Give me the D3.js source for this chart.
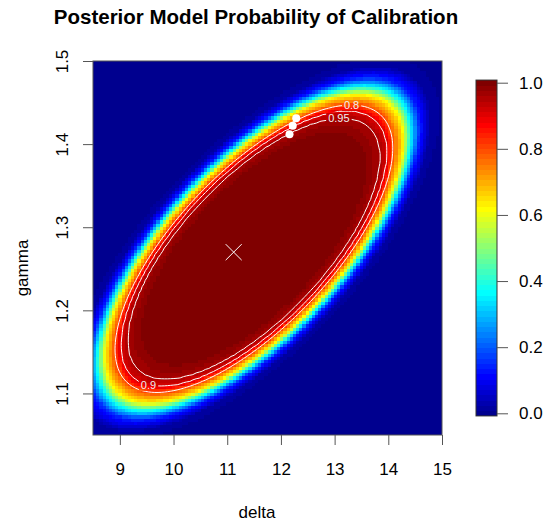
<!DOCTYPE html>
<html>
<head>
<meta charset="utf-8">
<style>
  body { margin: 0; background: #fff; }
  svg { font-family: "Liberation Sans", Arial, sans-serif; }
  .axis path { display: none; }
  .axis line { stroke: #555; }
  .axis text { font-size: 17px; fill: #000; }
  .cell { shape-rendering: crispEdges; }
</style>
<script src="https://cdn.jsdelivr.net/npm/d3@7"></script>
</head>
<body>
<script>
// --- values ---
var deltaRange = [8.5, 15];
var gammaRange = [1.05, 1.5];
var deltaTicks = [9, 10, 11, 12, 13, 14, 15];
var gammaTicks = [1.1, 1.2, 1.3, 1.4, 1.5];
var legendTicks = [0, 0.2, 0.4, 0.6, 0.8, 1.0];

// ridge of high probability: centre, half-extent of the 0.8 contour, tilt
var ridgeCentre = [11.497, 1.2741];
var ridgeSpread = [2.586, 0.1729];
var ridgeCorr = 0.7;

// probability against scaled distance from the centre (1 = the 0.8 contour)
var profileDist = [0, 0.8, 0.86, 0.91, 0.96, 1.0, 1.075, 1.13, 1.19, 1.27, 1.4];
var profileProb = [1.0, 0.988, 0.97, 0.95, 0.9, 0.8, 0.62, 0.37, 0.15, 0.03, 0.0];

var contourLevels = [0.8, 0.9, 0.95];
var labelLevel = [0.8, 0.95, 0.9];
var labelDelta = [13.33, 13.07, 9.53];
var labelGamma = [1.446, 1.424, 1.112];

var bestDelta = [11.12];
var bestGamma = [1.27];
var dotDelta = [12.16, 12.22, 12.285];
var dotGamma = [1.412, 1.422, 1.431];

// --- layout ---
var W = 545, H = 524;
var plot = {left: 93, right: 442, top: 61, bottom: 435};
var bar = {left: 476, right: 497, top: 82.7, bottom: 413.3};
var NX = 110, NY = 115;

var x = d3.scaleLinear().domain(deltaRange).range([plot.left, plot.right]);
var y = d3.scaleLinear().domain(gammaRange).range([plot.bottom, plot.top]);

// fields::tim.colors(64)
var palette = d3.range(64).map(function(i) {
  return d3.scaleLinear()
    .domain([0, 7, 23, 39, 55, 63])
    .range(["#00008F", "#0000FF", "#00FFFF", "#FFFF00", "#FF0000", "#800000"])(i);
});
var color = d3.scaleQuantize().domain([0, 1]).range(palette);

var profile = d3.scaleLinear().domain(profileDist).range(profileProb).clamp(true);

function prob(d, g) {
  var r = ridgeCorr;
  var zd = (d - ridgeCentre[0]) / ridgeSpread[0];
  var zg = (g - ridgeCentre[1]) / ridgeSpread[1];
  var q = (zd * zd - 2 * r * zd * zg + zg * zg) / (1 - r * r);
  return profile(Math.sqrt(q));
}

var dd = (deltaRange[1] - deltaRange[0]) / NX;
var dg = (gammaRange[1] - gammaRange[0]) / NY;
var values = [];
var cells = [];
for (var j = 0; j < NY; j++) {
  for (var i = 0; i < NX; i++) {
    var d = deltaRange[0] + (i + 0.5) * dd;
    var g = gammaRange[1] - (j + 0.5) * dg;
    var p = prob(d, g);
    values.push(p);
    cells.push({i: i, j: j, p: p});
  }
}

var svg = d3.select("body").append("svg")
  .attr("width", W)
  .attr("height", H);

// heat map
svg.append("g").selectAll("rect")
  .data(cells)
  .enter().append("rect")
  .attr("class", "cell")
  .attr("x", function(c) { return x(deltaRange[0] + c.i * dd); })
  .attr("y", function(c) { return y(gammaRange[1] - c.j * dg); })
  .attr("width", function(c) { return x(deltaRange[0] + (c.i + 1) * dd) - x(deltaRange[0] + c.i * dd); })
  .attr("height", function(c) { return y(gammaRange[1] - (c.j + 1) * dg) - y(gammaRange[1] - c.j * dg); })
  .attr("fill", function(c) { return color(c.p); });

// contours
var contours = d3.contours().size([NX, NY]).thresholds(contourLevels)(values);
var toScreen = d3.geoTransform({
  point: function(u, v) {
    this.stream.point(x(deltaRange[0] + u * dd), y(gammaRange[1] - v * dg));
  }
});
var path = d3.geoPath(toScreen);

var mask = svg.append("defs").append("mask")
  .attr("id", "gaps")
  .attr("maskUnits", "userSpaceOnUse")
  .attr("x", 0).attr("y", 0).attr("width", W).attr("height", H);
mask.append("rect").attr("width", W).attr("height", H).attr("fill", "#fff");

svg.append("g")
  .attr("mask", "url(#gaps)")
  .selectAll("path")
  .data(contours)
  .enter().append("path")
  .attr("d", path)
  .attr("fill", "none")
  .attr("stroke", "#fff")
  .attr("stroke-width", 1);

// contour labels, snapped onto their line
labelLevel.forEach(function(level, k) {
  var c = contours[contourLevels.indexOf(level)];
  var tx = x(labelDelta[k]), ty = y(labelGamma[k]);
  var best = null, bestDist = Infinity;
  c.coordinates.forEach(function(poly) {
    poly.forEach(function(ring) {
      ring.forEach(function(pt) {
        var px = x(deltaRange[0] + pt[0] * dd), py = y(gammaRange[1] - pt[1] * dg);
        var dist = (px - tx) * (px - tx) + (py - ty) * (py - ty);
        if (dist < bestDist) { bestDist = dist; best = [px, py]; }
      });
    });
  });
  var t = svg.append("text")
    .attr("x", best[0])
    .attr("y", best[1])
    .attr("dy", "0.35em")
    .attr("text-anchor", "middle")
    .style("font-size", "11px")
    .attr("fill", "#f0f0f0")
    .text(level);
  var bb = t.node().getBBox();
  mask.append("rect")
    .attr("x", bb.x - 2).attr("y", bb.y)
    .attr("width", bb.width + 4).attr("height", bb.height)
    .attr("fill", "#000");
});

// best estimate cross and the three white points
var best = svg.append("g").selectAll("g")
  .data(bestDelta)
  .enter().append("g")
  .attr("transform", function(d, k) { return "translate(" + x(d) + "," + y(bestGamma[k]) + ")"; });
best.append("path")
  .attr("d", "M-8,-8L8,8M-8,8L8,-8")
  .attr("stroke", "#fff")
  .attr("stroke-width", 1);

svg.append("g").selectAll("circle")
  .data(dotDelta)
  .enter().append("circle")
  .attr("cx", function(d) { return x(d); })
  .attr("cy", function(d, k) { return y(dotGamma[k]); })
  .attr("r", 4)
  .attr("fill", "#fff");

// frame and axes
svg.append("rect")
  .attr("x", plot.left).attr("y", plot.top)
  .attr("width", plot.right - plot.left)
  .attr("height", plot.bottom - plot.top)
  .attr("fill", "none")
  .attr("stroke", "#555");

svg.append("g")
  .attr("class", "axis")
  .attr("transform", "translate(0," + plot.bottom + ")")
  .call(d3.axisBottom(x).tickValues(deltaTicks).tickSize(10).tickPadding(18).tickFormat(d3.format("d")));

svg.append("g")
  .attr("class", "axis")
  .attr("transform", "translate(" + plot.left + ",0)")
  .call(d3.axisLeft(y).tickValues(gammaTicks).tickSize(10).tickFormat(d3.format(".1f")))
  .selectAll("text")
  .attr("x", 0).attr("dy", 0)
  .attr("text-anchor", "middle")
  .attr("transform", "translate(-25,0) rotate(-90)");

// colour bar
var ly = d3.scaleLinear().domain([0, 1]).range([bar.bottom, bar.top]);
var half = (bar.bottom - bar.top) / 63 / 2;
svg.append("g").selectAll("rect")
  .data(palette)
  .enter().append("rect")
  .attr("class", "cell")
  .attr("x", bar.left)
  .attr("width", bar.right - bar.left)
  .attr("y", function(c, k) { return ly(k / 63) - half; })
  .attr("height", half * 2 + 0.5)
  .attr("fill", function(c) { return c; });
svg.append("rect")
  .attr("x", bar.left).attr("y", bar.top - half)
  .attr("width", bar.right - bar.left)
  .attr("height", bar.bottom - bar.top + 2 * half)
  .attr("fill", "none")
  .attr("stroke", "#333");
svg.append("g")
  .attr("class", "axis")
  .attr("transform", "translate(" + bar.right + ",0)")
  .call(d3.axisRight(ly).tickValues(legendTicks).tickSize(11).tickPadding(11).tickFormat(d3.format(".1f")));

// titles
svg.append("text")
  .attr("x", 256).attr("y", 24)
  .attr("text-anchor", "middle")
  .style("font-size", "20.5px")
  .style("font-weight", "bold")
  .text("Posterior Model Probability of Calibration");

svg.append("text")
  .attr("x", 257).attr("y", 518)
  .attr("text-anchor", "middle")
  .style("font-size", "17px")
  .text("delta");

svg.append("text")
  .attr("transform", "translate(28,268) rotate(-90)")
  .attr("text-anchor", "middle")
  .style("font-size", "17px")
  .text("gamma");
</script>
</body>
</html>
